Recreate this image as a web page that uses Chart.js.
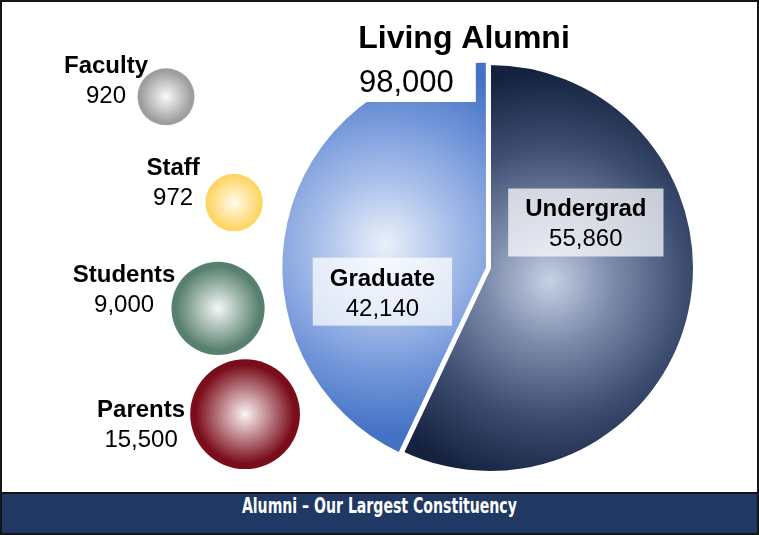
<!DOCTYPE html>
<html>
<head>
<meta charset="utf-8">
<script src="https://cdn.jsdelivr.net/npm/chart.js@4.4.1/dist/chart.umd.min.js"></script>
<style>
  html, body { margin: 0; padding: 0; background: #fff; }
  body { width: 759px; height: 535px; position: relative; overflow: hidden; }
  #frame { position: absolute; left: 0; top: 0; width: 759px; height: 535px; box-sizing: border-box; border: 2px solid #151515; }
  #banner { position: absolute; left: 0; right: 0; bottom: 0; height: 39px; border-top: 2px solid #151515;
            background: #1f3864; color: #fff; text-align: center; line-height: 41px;
            font: bold 21px "Liberation Sans Narrow", "DejaVu Sans Condensed", sans-serif; }
  #banner span { display: inline-block; transform-origin: center; }
  #bubbles { position: absolute; }
  #pie { position: absolute; left: 260px; top: 0; }
</style>
</head>
<body>
<div id="frame">
  <div id="banner"><span id="caption">Alumni – Our Largest Constituency</span></div>
</div>
<canvas id="bubbles"></canvas>
<canvas id="pie" width="460" height="490"></canvas>
<script>
// ---- data ----
const totalTitle = "Living Alumni";
const pieLabels = ["Undergrad", "Graduate"];
const pieValues = [55860, 42140];
const groupLabels = ["Faculty", "Staff", "Students", "Parents"];
const groupValues = [920, 972, 9000, 15500];

// ---- look ----
const FONT = '"Liberation Sans", Arial, sans-serif';
const pieStops = [
  [[0, "#c6d1e6"], [0.3, "#7d8bab"], [0.65, "#3d4d70"], [1, "#14223f"]],
  [[0, "#eaf0fa"], [0.35, "#a9bfea"], [0.7, "#6f93d8"], [1, "#4472c4"]]
];
const pieGlow = [0.3, 0.5];      // how far the light spot sits from centre
const pieGlowSize = [210, 190];
const pieOffset = [0, 12];
const labelTurn = [-38, -25];    // label box angle relative to slice middle (deg)
const labelDist = [0.52, 0.54];
const PIE_R = 204;
const bubbleEdge = ["#9e9e9e", "#fdd666", "#58806f", "#7a0d1a"];
const bubbleCore = ["#fafafa", "#fffcf0", "#f3f7f5", "#fbf3f5"];
const bubbleX = [166, 234, 218, 245];   // horizontal stagger of the bubbles
const bubbleBox = { left: 0, top: 44, width: 300, height: 423 };
const tagDX = [-60, -61, -94, -104];    // label centre relative to its bubble
const tagDY = [-24, -28, -26, 3];       // name baseline relative to its bubble

const fmt = v => v.toLocaleString("en-US");
const total = pieValues.reduce((a, b) => a + b, 0);
const bubbleRadius = v => 20 + 0.28 * Math.sqrt(v);

// caption fits the banner width of the original
const cap = document.getElementById("caption");
cap.style.transform = "scaleX(" + (275 / cap.getBoundingClientRect().width) + ")";

// bubble chart reserves room for its largest bubble on every side; grow the canvas by that much
const overflow = Math.max(...groupValues.map(bubbleRadius));
const bc = document.getElementById("bubbles");
bc.width = Math.round(bubbleBox.width + 2 * overflow);
bc.height = Math.round(bubbleBox.height + 2 * overflow);
bc.style.left = Math.round(bubbleBox.left - overflow) + "px";
bc.style.top = Math.round(bubbleBox.top - overflow) + "px";

function sliceFill(context) {
  const i = context.dataIndex;
  const area = context.chart.chartArea;
  const flat = pieStops[i][pieStops[i].length - 1][1];
  if (!area || context.type !== "data") return flat;
  let before = 0;
  for (let k = 0; k < i; k++) before += pieValues[k];
  const mid = (before + pieValues[i] / 2) / total * Math.PI * 2 - Math.PI / 2;
  const cx = (area.left + area.right) / 2, cy = (area.top + area.bottom) / 2;
  const d = pieOffset[i] / 4 + pieGlow[i] * PIE_R;
  const gx = cx + Math.cos(mid) * d, gy = cy + Math.sin(mid) * d;
  if (!isFinite(gx) || !isFinite(gy)) return flat;
  const g = context.chart.ctx.createRadialGradient(gx, gy, 0, gx, gy, pieGlowSize[i]);
  pieStops[i].forEach(s => g.addColorStop(s[0], s[1]));
  return g;
}

function bubbleFill(context) {
  const i = context.dataIndex;
  const chart = context.chart;
  if (context.type !== "data" || !chart.scales.x) return bubbleEdge[i];
  const x = chart.scales.x.getPixelForValue(context.raw.x);
  const y = chart.scales.y.getPixelForValue(i);
  const r = context.raw.r;
  if (!isFinite(x) || !isFinite(y) || !(r > 0)) return bubbleEdge[i];
  const g = chart.ctx.createRadialGradient(x, y, 0, x, y, r);
  g.addColorStop(0, bubbleCore[i]);
  g.addColorStop(0.9, bubbleEdge[i]);
  g.addColorStop(1, bubbleEdge[i]);
  return g;
}

const pieText = {
  id: "pieText",
  afterDatasetsDraw(chart) {
    const ctx = chart.ctx;
    const meta = chart.getDatasetMeta(0);
    ctx.save();
    ctx.textAlign = "center";
    meta.data.forEach((arc, i) => {
      const ang = (arc.startAngle + arc.endAngle) / 2 + labelTurn[i] * Math.PI / 180;
      const px = arc.x + Math.cos(ang) * labelDist[i] * PIE_R;
      const py = arc.y + Math.sin(ang) * labelDist[i] * PIE_R;
      ctx.font = "bold 24px " + FONT;
      const w1 = ctx.measureText(pieLabels[i]).width;
      ctx.font = "24px " + FONT;
      const w2 = ctx.measureText(fmt(pieValues[i])).width;
      const bw = Math.max(w1, w2) + 34;
      ctx.fillStyle = "rgba(255,255,255,0.72)";
      ctx.fillRect(px - bw / 2, py - 34, bw, 68);
      ctx.fillStyle = "#000";
      ctx.font = "bold 24px " + FONT;
      ctx.fillText(pieLabels[i], px, py - 6);
      ctx.font = "24px " + FONT;
      ctx.fillText(fmt(pieValues[i]), px, py + 24);
    });

    // total figure sits on a white patch cut into the graduate slice
    ctx.textAlign = "left";
    ctx.font = "31px " + FONT;
    const tw = ctx.measureText(fmt(total)).width;
    const tx = 99, ty = 92;
    ctx.fillStyle = "#fff";
    ctx.fillRect(tx - 20, ty - 36, tw + 42, 46);
    ctx.fillStyle = "#000";
    ctx.fillText(fmt(total), tx, ty);
    ctx.textAlign = "center";
    ctx.font = "bold 32px " + FONT;
    ctx.fillText(totalTitle, 204, 48);
    ctx.restore();
  }
};

const bubbleText = {
  id: "bubbleText",
  afterDatasetsDraw(chart) {
    const ctx = chart.ctx;
    ctx.save();
    ctx.fillStyle = "#000";
    ctx.textAlign = "center";
    chart.getDatasetMeta(0).data.forEach((pt, i) => {
      const cx = pt.x + tagDX[i];
      const cy = pt.y + tagDY[i];
      ctx.font = "bold 24px " + FONT;
      ctx.fillText(groupLabels[i], cx, cy);
      ctx.font = "24px " + FONT;
      ctx.fillText(fmt(groupValues[i]), cx, cy + 30);
    });
    ctx.restore();
  }
};

new Chart(document.getElementById("pie"), {
  type: "pie",
  data: {
    labels: pieLabels,
    datasets: [{
      data: pieValues,
      backgroundColor: sliceFill,
      borderColor: "#fff",
      borderWidth: 2,
      offset: pieOffset
    }]
  },
  options: {
    responsive: false,
    animation: false,
    events: [],
    radius: PIE_R,
    layout: { padding: { top: 46 } },
    plugins: { legend: { display: false }, tooltip: { enabled: false } }
  },
  plugins: [pieText]
});

new Chart(bc, {
  type: "bubble",
  data: {
    labels: groupLabels,
    datasets: [{
      data: groupLabels.map((g, i) => ({ x: bubbleX[i], y: g, r: bubbleRadius(groupValues[i]) })),
      backgroundColor: bubbleFill,
      borderWidth: 0,
      clip: false
    }]
  },
  options: {
    responsive: false,
    animation: false,
    events: [],
    layout: { padding: 0 },
    scales: {
      x: { type: "linear", min: 0, max: 300, display: false },
      y: { type: "category", labels: groupLabels, offset: true, display: false }
    },
    plugins: { legend: { display: false }, tooltip: { enabled: false } }
  },
  plugins: [bubbleText]
});
</script>
</body>
</html>
